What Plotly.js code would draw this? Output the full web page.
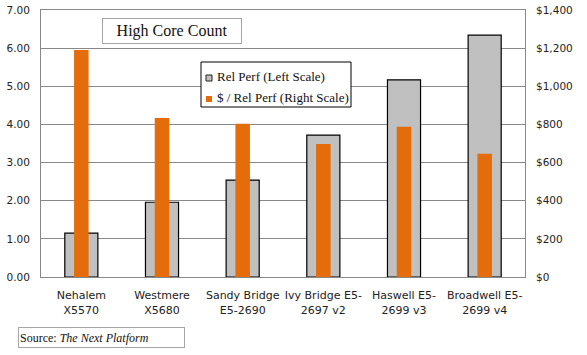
<!DOCTYPE html>
<html>
<head>
<meta charset="utf-8">
<script src="https://cdn.plot.ly/plotly-3.0.1.min.js"></script>
<style>html,body{margin:0;padding:0;background:#fff;}#chart{width:587px;height:355px;}</style>
</head>
<body>
<div id="chart"></div>
<script>
var categories = ["Nehalem<br>X5570", "Westmere<br>X5680", "Sandy Bridge<br>E5-2690", "Ivy Bridge E5-<br>2697 v2", "Haswell E5-<br>2699 v3", "Broadwell E5-<br>2699 v4"];
var relPerf = [1.15, 1.96, 2.54, 3.72, 5.17, 6.34];
var dollarPerRelPerf = [1190, 834, 803, 698, 788, 646];
var seriesNames = ["Rel Perf (Left Scale)", "$ / Rel Perf (Right Scale)"];
var leftTicks = [0, 1, 2, 3, 4, 5, 6, 7];
var rightTicks = [0, 200, 400, 600, 800, 1000, 1200, 1400];
var rightTickText = rightTicks.map(function (v) {
  return "$" + String(v).replace(/\B(?=(\d{3})+(?!\d))/g, ",");
});

var tickFont = {family: "DejaVu Sans", size: 10.5, color: "#222"};
var xTickFont = {family: "DejaVu Sans", size: 11, color: "#222"};
var serif = "Liberation Serif";
var grayFill = "#C0C0C0", orangeFill = "#E46C0A";

// pixel helpers for the hand-drawn legend box (plot area: x 41..525, y 10..277)
function px(x) { return (x - 41) / 484; }
function py(y) { return (277 - y) / 267; }

var traces = [
  {
    type: "bar", name: seriesNames[0], x: categories, y: relPerf, yaxis: "y",
    width: 0.41,
    marker: {color: grayFill, line: {color: "#000", width: 1.2}},
    hoverinfo: "skip"
  },
  {
    type: "bar", name: seriesNames[1], x: categories, y: dollarPerRelPerf, yaxis: "y2",
    width: 0.18,
    marker: {color: orangeFill, line: {width: 0}},
    hoverinfo: "skip"
  }
];

var layout = {
  width: 587, height: 355,
  margin: {l: 41, r: 62, t: 10, b: 78},
  paper_bgcolor: "#fff", plot_bgcolor: "#fff",
  barmode: "overlay",
  showlegend: false,
  xaxis: {
    type: "category", tickfont: xTickFont, showgrid: false,
    showline: true, linecolor: "#888", linewidth: 1, mirror: true,
    ticks: "", ticklabelstandoff: 8, fixedrange: true
  },
  yaxis: {
    range: [0, 7], tickvals: leftTicks, tickformat: ".2f",
    tickfont: tickFont, showgrid: true, gridcolor: "#888", gridwidth: 1,
    showline: true, linecolor: "#888", linewidth: 1, mirror: true,
    zeroline: false, ticks: "", ticklabelstandoff: 8, fixedrange: true
  },
  yaxis2: {
    range: [0, 1400], tickvals: rightTicks, ticktext: rightTickText,
    overlaying: "y", side: "right", tickfont: tickFont, showgrid: false,
    zeroline: false, ticks: "", ticklabelstandoff: 10, fixedrange: true
  },
  shapes: [
    {type: "rect", xref: "paper", yref: "paper", x0: px(201), x1: px(351), y0: py(107), y1: py(62),
     line: {color: "#000", width: 1}, fillcolor: "#fff", layer: "above"},
    {type: "rect", xref: "paper", yref: "paper", x0: px(206), x1: px(212), y0: py(81), y1: py(75),
     line: {color: "#222", width: 1}, fillcolor: grayFill, layer: "above"},
    {type: "rect", xref: "paper", yref: "paper", x0: px(206), x1: px(212), y0: py(102), y1: py(96),
     line: {width: 0}, fillcolor: orangeFill, layer: "above"}
  ],
  annotations: [
    {
      xref: "paper", yref: "paper", x: 0.27, y: 0.92, xanchor: "center", yanchor: "middle",
      text: "High Core Count", showarrow: false,
      font: {family: serif, size: 16, color: "#111"},
      bordercolor: "#a6a6a6", borderwidth: 1, bgcolor: "#fff",
      width: 136, height: 22, borderpad: 1
    },
    {
      xref: "paper", yref: "paper", x: px(215), y: py(76), xanchor: "left", yanchor: "middle",
      text: seriesNames[0], showarrow: false,
      font: {family: serif, size: 13, color: "#111"}
    },
    {
      xref: "paper", yref: "paper", x: px(215), y: py(97), xanchor: "left", yanchor: "middle",
      text: seriesNames[1], showarrow: false,
      font: {family: serif, size: 13, color: "#111"}
    },
    {
      xref: "paper", yref: "paper", x: 0.125, y: -0.225, xanchor: "center", yanchor: "middle",
      text: "Source: <i>The Next Platform</i>", showarrow: false, align: "left",
      font: {family: serif, size: 12, color: "#111"},
      bordercolor: "#a6a6a6", borderwidth: 1, bgcolor: "#fff",
      width: 163, height: 17, borderpad: 1
    }
  ]
};

Plotly.newPlot("chart", traces, layout, {displayModeBar: false, staticPlot: true});
</script>
</body>
</html>
